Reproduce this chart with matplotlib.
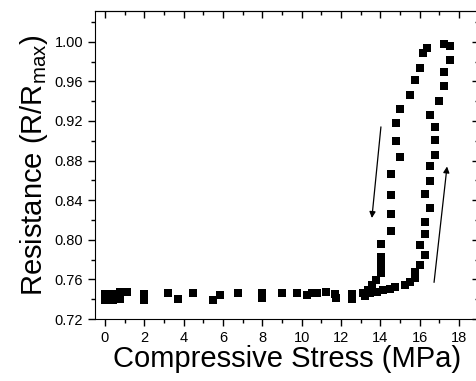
import numpy as np
import matplotlib.pyplot as plt
from matplotlib.ticker import MultipleLocator

plt.rcParams['font.family'] = ['Liberation Sans', 'DejaVu Sans']
plt.rcParams['mathtext.default'] = 'regular'

# Carga (loading): sube por la rama derecha
x_carga = [0.0, 0.41, 0.76, 1.98, 3.20, 5.85, 7.98, 9.00, 10.52, 11.69, 12.56,
           13.22, 13.47, 13.83, 14.13, 14.49, 14.74, 15.25, 15.51, 15.76, 15.76,
           16.01, 16.27, 16.01, 16.27, 16.27, 16.52, 16.27, 16.52, 16.52, 16.78,
           16.78, 16.78, 16.52, 16.98, 17.23, 17.23, 17.54, 17.54, 17.23]
y_carga = [0.745, 0.745, 0.747, 0.745, 0.746, 0.744, 0.746, 0.746, 0.746, 0.745, 0.745,
           0.743, 0.746, 0.747, 0.749, 0.750, 0.752, 0.754, 0.757, 0.761, 0.767,
           0.775, 0.785, 0.795, 0.806, 0.818, 0.832, 0.846, 0.859, 0.874, 0.886,
           0.901, 0.914, 0.926, 0.940, 0.955, 0.969, 0.982, 0.996, 0.998]

# Descarga (unloading): baja por la rama izquierda
x_descarga = [16.37, 16.17, 16.01, 15.76, 15.51, 15.00, 14.79, 14.79, 15.00, 14.54,
              14.54, 14.54, 14.54, 14.03, 14.03, 14.03, 14.03, 13.78, 13.57, 13.37,
              13.12, 12.56, 11.74, 11.24, 10.78, 10.27, 9.76, 7.98, 6.76, 5.49,
              4.47, 3.71, 1.98, 1.12, 0.76, 0.41, 0.0]
y_descarga = [0.994, 0.989, 0.973, 0.961, 0.946, 0.932, 0.918, 0.900, 0.884, 0.866,
              0.845, 0.826, 0.809, 0.796, 0.783, 0.775, 0.766, 0.759, 0.754, 0.749,
              0.746, 0.740, 0.741, 0.747, 0.746, 0.744, 0.746, 0.741, 0.746, 0.739,
              0.746, 0.740, 0.739, 0.747, 0.740, 0.739, 0.739]

# Flechas: (inicio, fin)
flecha_bajada = [(14.03, 0.914), (13.57, 0.822)]
flecha_subida = [(16.73, 0.757), (17.39, 0.874)]

fig = plt.figure(figsize=(4.77, 3.81), dpi=100)
ax = fig.add_axes([0.1992, 0.1627, 0.8044, 0.8084])

ax.plot(x_carga, y_carga, 's', color='black', markersize=5.5, markeredgewidth=0)
ax.plot(x_descarga, y_descarga, 's', color='black', markersize=5.5, markeredgewidth=0)

for (x0, y0), (x1, y1) in [flecha_bajada, flecha_subida]:
    ax.annotate('', xy=(x1, y1), xytext=(x0, y0),
                arrowprops=dict(arrowstyle='-|>', color='black', lw=0.9,
                                mutation_scale=9, shrinkA=0, shrinkB=0))

ax.set_xlim(-0.5, 19)
ax.set_ylim(0.72, 1.031)
ax.xaxis.set_major_locator(MultipleLocator(2))
ax.xaxis.set_minor_locator(MultipleLocator(1))
ax.yaxis.set_major_locator(MultipleLocator(0.04))
ax.yaxis.set_minor_locator(MultipleLocator(0.02))
ax.yaxis.set_major_formatter(plt.FormatStrFormatter('%.2f'))

ax.tick_params(which='both', direction='out', top=False, right=False, labelsize=10.5)
ax.tick_params(which='major', length=5, width=1)
ax.tick_params(which='minor', length=3, width=1)

# Ticks espejo hacia dentro (arriba y derecha)
axt = ax.secondary_xaxis('top')
axt.xaxis.set_major_locator(MultipleLocator(2))
axt.xaxis.set_minor_locator(MultipleLocator(1))
axt.tick_params(which='both', direction='in', labeltop=False)
axt.tick_params(which='major', length=5, width=1)
axt.tick_params(which='minor', length=3, width=1)
axr = ax.secondary_yaxis('right')
axr.yaxis.set_major_locator(MultipleLocator(0.04))
axr.yaxis.set_minor_locator(MultipleLocator(0.02))
axr.tick_params(which='both', direction='in', labelright=False)
axr.tick_params(which='major', length=5, width=1)
axr.tick_params(which='minor', length=3, width=1)

ax.set_xlabel('Compressive Stress (MPa)', fontsize=21, labelpad=0)
ax.set_ylabel('Resistance (R/R$_{max}$)', fontsize=21, labelpad=3)

plt.savefig('out.png', dpi=100)
